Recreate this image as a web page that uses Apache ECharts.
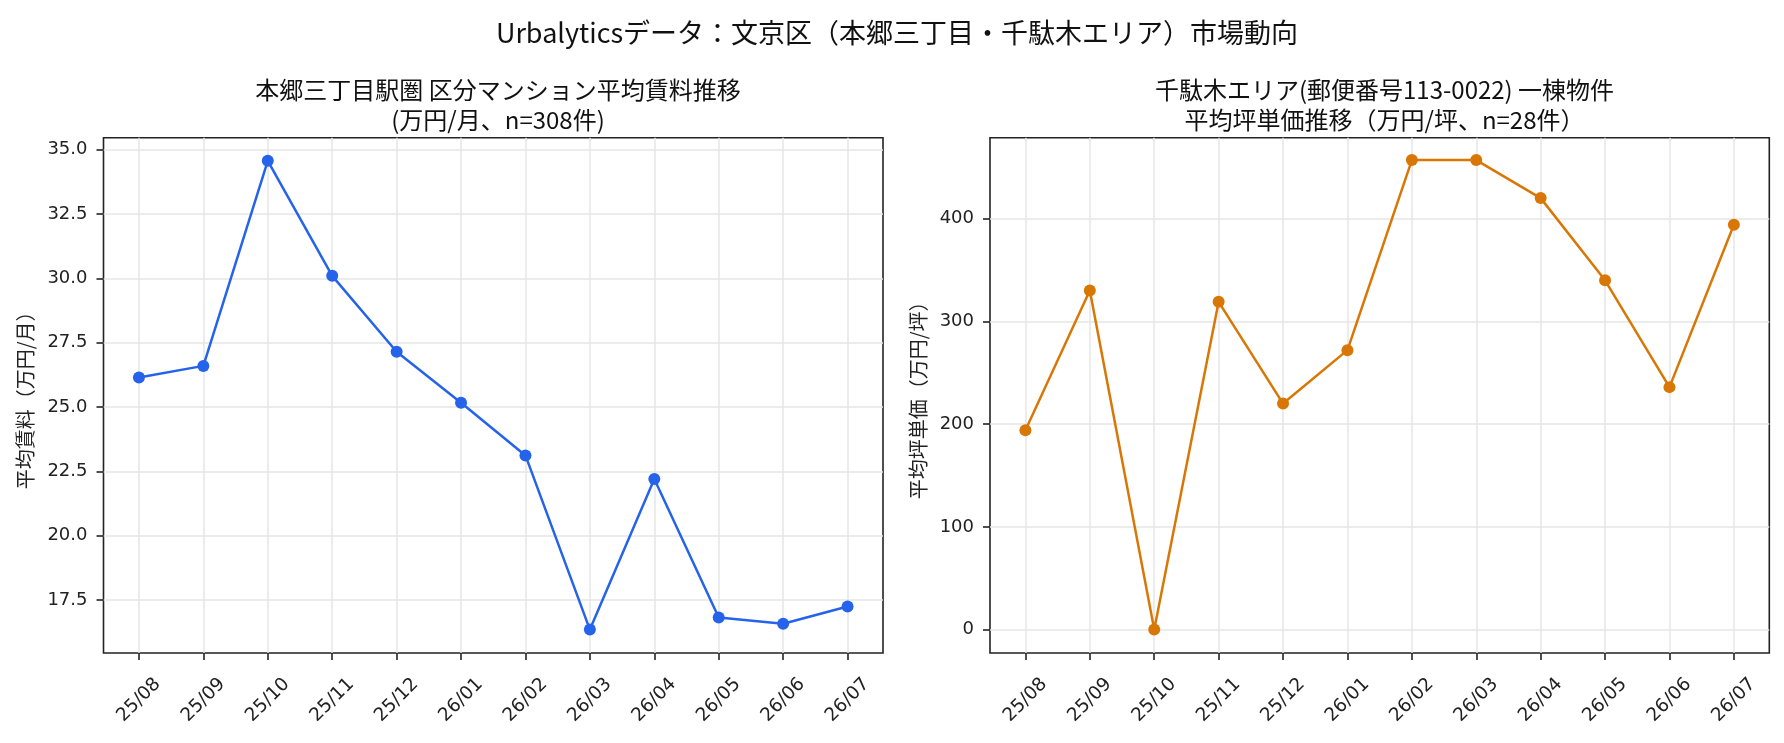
<!DOCTYPE html>
<html>
<head>
<meta charset="utf-8">
<script src="https://cdn.jsdelivr.net/npm/echarts@6/dist/echarts.min.js"></script>
<style>
  html, body { margin: 0; padding: 0; background: #fff; }
  #chart { width: 1784px; height: 743px; }
</style>
</head>
<body>
<div id="chart"></div>
<script>
// 月ラベル
const months = ['25/08', '25/09', '25/10', '25/11', '25/12', '26/01', '26/02', '26/03', '26/04', '26/05', '26/06', '26/07'];
// 本郷三丁目 区分マンション平均賃料（万円/月）
const rentValues = [26.15, 26.6, 34.57, 30.1, 27.15, 25.17, 23.12, 16.35, 22.2, 16.82, 16.58, 17.25];
// 千駄木 一棟物件 平均坪単価（万円/坪）
const tsuboValues = [194, 330, 0, 319, 220, 272, 457, 457, 420, 340, 236, 394];
// 目盛り
const rentTicks = [17.5, 20.0, 22.5, 25.0, 27.5, 30.0, 32.5, 35.0];
const tsuboTicks = [0, 100, 200, 300, 400];

const cjk = '"Noto Sans CJK JP", "Noto Sans", sans-serif';
const num = '"DejaVu Sans", sans-serif';
const ink = '#222';
const gridColor = '#e6e6e6';
const monthIdx = months.map((m, i) => i);

const chart = echarts.init(document.getElementById('chart'));

const xAxisBase = (gridIndex) => ({
  type: 'value',
  gridIndex: gridIndex,
  min: -0.55,
  max: months.length - 1 + 0.55,
  axisLine: {show: false, onZero: false},
  axisTick: {show: true, length: 7, lineStyle: {color: ink, width: 1.6}, customValues: monthIdx},
  axisLabel: {
    customValues: monthIdx,
    formatter: (v) => months[Math.round(v)],
    rotate: 45,
    align: 'center',
    verticalAlign: 'middle',
    margin: 47,
    fontFamily: num,
    fontSize: 18.5,
    color: ink
  },
  splitLine: {show: true, lineStyle: {color: gridColor, width: 1.5}}
});

const yAxisBase = (gridIndex, min, max, ticks, name, gap, fmt) => ({
  type: 'value',
  gridIndex: gridIndex,
  min: min,
  max: max,
  name: name,
  nameLocation: 'middle',
  nameGap: gap,
  nameTextStyle: {fontFamily: cjk, fontSize: 20, color: ink},
  axisLine: {show: false, onZero: false},
  axisTick: {show: true, length: 7, lineStyle: {color: ink, width: 1.6}, customValues: ticks},
  axisLabel: {customValues: ticks, formatter: fmt, margin: 16, fontFamily: num, fontSize: 18, color: ink},
  splitLine: {show: true, lineStyle: {color: gridColor, width: 1.5}}
});

const option = {
  backgroundColor: '#fff',
  animation: false,
  title: [
    {
      text: 'Urbalyticsデータ：文京区（本郷三丁目・千駄木エリア）市場動向',
      left: 892, top: 14, textAlign: 'center',
      textStyle: {fontFamily: cjk, fontSize: 27, fontWeight: 'normal', color: '#111', lineHeight: 27}
    },
    {
      text: '本郷三丁目駅圏 区分マンション平均賃料推移\n(万円/月、n=308件)',
      left: 493, top: 70, textAlign: 'center',
      textStyle: {fontFamily: cjk, fontSize: 24, fontWeight: 'normal', color: '#111', lineHeight: 30}
    },
    {
      text: '千駄木エリア(郵便番号113-0022) 一棟物件\n平均坪単価推移（万円/坪、n=28件）',
      left: 1379.5, top: 70, textAlign: 'center',
      textStyle: {fontFamily: cjk, fontSize: 24, fontWeight: 'normal', color: '#111', lineHeight: 30}
    }
  ],
  grid: [
    {left: 103.5, top: 137.7, width: 779.5, height: 515.3, show: true, borderColor: ink, borderWidth: 1.6, backgroundColor: '#fff'},
    {left: 990, top: 137.7, width: 779.3, height: 515.3, show: true, borderColor: ink, borderWidth: 1.6, backgroundColor: '#fff'}
  ],
  xAxis: [xAxisBase(0), xAxisBase(1)],
  yAxis: [
    yAxisBase(0, 15.44, 35.47, rentTicks, '平均賃料（万円/月）', 68, (v) => v.toFixed(1)),
    yAxisBase(1, -22.8, 478.8, tsuboTicks, '平均坪単価（万円/坪）', 62, (v) => String(Math.round(v)))
  ],
  series: [
    {
      name: '平均賃料',
      type: 'line',
      xAxisIndex: 0,
      yAxisIndex: 0,
      data: rentValues.map((v, i) => [i, v]),
      symbol: 'circle',
      symbolSize: 12,
      color: '#2563eb',
      lineStyle: {width: 2.5, color: '#2563eb'},
      itemStyle: {color: '#2563eb'}
    },
    {
      name: '平均坪単価',
      type: 'line',
      xAxisIndex: 1,
      yAxisIndex: 1,
      data: tsuboValues.map((v, i) => [i, v]),
      symbol: 'circle',
      symbolSize: 12,
      color: '#d97706',
      lineStyle: {width: 2.5, color: '#d97706'},
      itemStyle: {color: '#d97706'}
    }
  ]
};

chart.setOption(option);
</script>
</body>
</html>
